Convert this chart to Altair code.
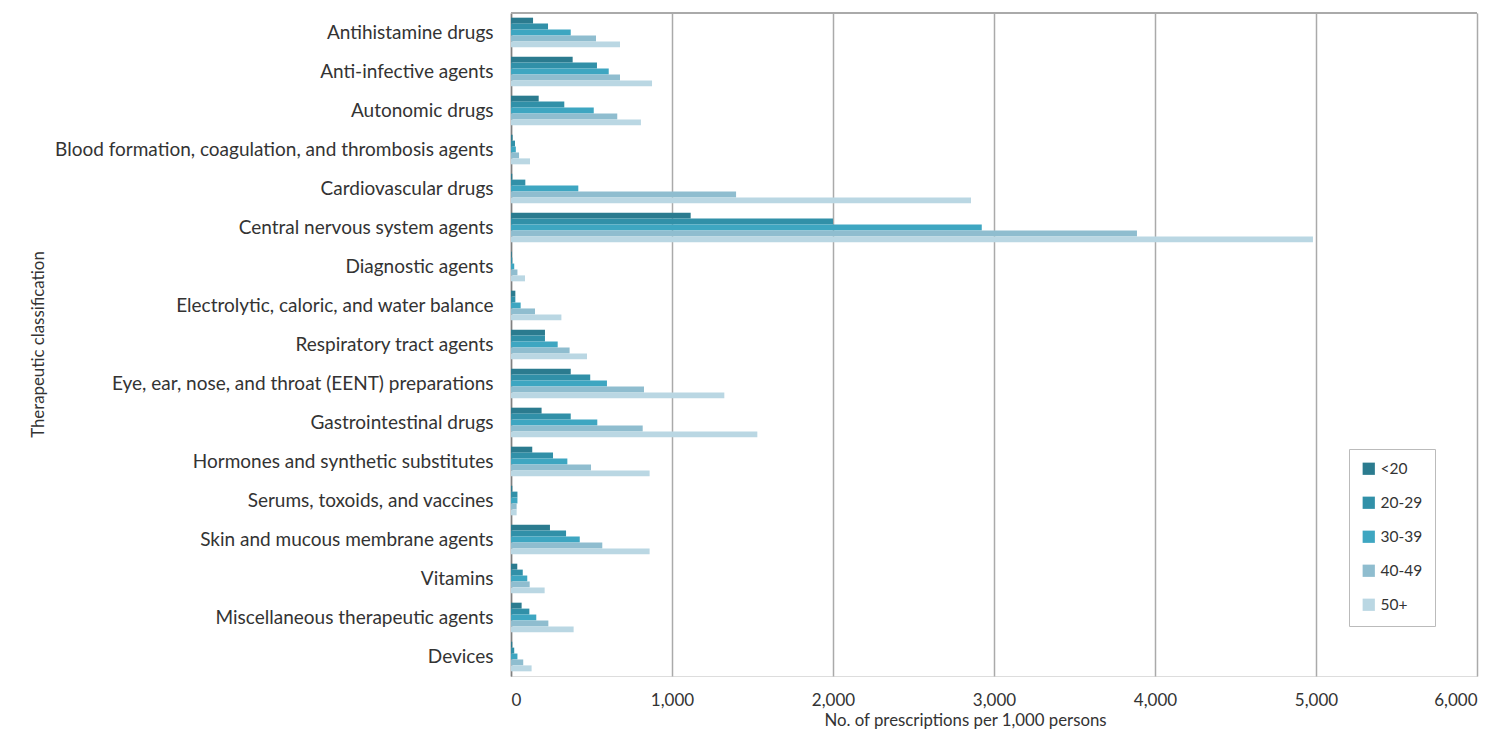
import altair as alt
import pandas as pd

categories = [
    "Antihistamine drugs",
    "Anti-infective agents",
    "Autonomic drugs",
    "Blood formation, coagulation, and thrombosis agents",
    "Cardiovascular drugs",
    "Central nervous system agents",
    "Diagnostic agents",
    "Electrolytic, caloric, and water balance",
    "Respiratory tract agents",
    "Eye, ear, nose, and throat (EENT) preparations",
    "Gastrointestinal drugs",
    "Hormones and synthetic substitutes",
    "Serums, toxoids, and vaccines",
    "Skin and mucous membrane agents",
    "Vitamins",
    "Miscellaneous therapeutic agents",
    "Devices",
]
age_groups = ["<20", "20-29", "30-39", "40-49", "50+"]

v_lt20 = [137, 383, 172, 10, 8, 1116, 5, 27, 211, 371, 190, 132, 8, 242, 39, 66, 8]
v_20_29 = [230, 534, 331, 25, 89, 2000, 8, 27, 211, 492, 371, 261, 40, 342, 73, 114, 20]
v_30_39 = [371, 607, 514, 30, 418, 2924, 20, 60, 290, 596, 536, 350, 40, 427, 101, 157, 40]
v_40_49 = [528, 677, 660, 50, 1398, 3888, 40, 149, 364, 826, 818, 497, 35, 567, 116, 232, 76]
v_50p = [677, 876, 807, 118, 2857, 4981, 87, 313, 472, 1325, 1530, 861, 35, 861, 209, 389, 128]

colors = ["#2b7b8f", "#3190a8", "#3ea6c1", "#8fbdcf", "#bad7e3"]

series = [v_lt20, v_20_29, v_30_39, v_40_49, v_50p]
rows = []
for g, vals in zip(age_groups, series):
    for c, v in zip(categories, vals):
        rows.append({"category": c, "age": g, "value": v})
df = pd.DataFrame(rows)

FONT = "Lato"

bars = alt.Chart(df).mark_bar().encode(
    y=alt.Y(
        "category:N",
        sort=categories,
        scale=alt.Scale(paddingInner=0.24, paddingOuter=0.12),
        axis=alt.Axis(
            title="Therapeutic classification",
            titleFont=FONT,
            titleFontSize=16.8,
            titleFontWeight="normal",
            titleColor="#333333",
            titleX=-473,
            titleY=331,
            titleAngle=270,
            titleAlign="center",
            titleBaseline="middle",
            labelFont=FONT,
            labelFontSize=19,
            labelColor="#333333",
            labelPadding=18,
            labelLimit=800,
            ticks=False,
            domain=True,
            domainColor="#808080",
            domainWidth=1.5,
            grid=False,
        ),
    ),
    yOffset=alt.YOffset("age:N", sort=age_groups),
    x=alt.X(
        "value:Q",
        scale=alt.Scale(domain=[0, 6000], nice=False),
        axis=alt.Axis(
            title="No. of prescriptions per 1,000 persons",
            titleFont=FONT,
            titleFontSize=16.8,
            titleFontWeight="normal",
            titleColor="#333333",
            titlePadding=4,
            titleX=454,
            labelFont=FONT,
            labelFontSize=17,
            labelColor="#333333",
            labelPadding=16,
            values=[0, 1000, 2000, 3000, 4000, 5000, 6000],
            format=",d",
            ticks=False,
            domain=False,
            grid=True,
            gridColor="#aaaaaa",
            gridWidth=1.5,
        ),
    ),
    color=alt.Color(
        "age:N",
        sort=age_groups,
        scale=alt.Scale(domain=age_groups, range=colors),
        legend=alt.Legend(
            title=None,
            orient="none",
            legendX=838,
            legendY=436,
            symbolType="square",
            symbolSize=150,
            symbolStrokeWidth=0,
            labelFont=FONT,
            labelFontSize=15.5,
            labelColor="#333333",
            rowPadding=17,
            padding=12,
            strokeColor="#bbbbbb",
            fillColor="white",
        ),
    ),
)

top_border = alt.Chart(df).mark_rule(color="#aaaaaa", strokeWidth=1.5).encode(
    x=alt.value(0), x2=alt.value(966), y=alt.value(0)
)

chart = (
    alt.layer(bars, top_border)
    .properties(width=966, height=663, padding={"top": 4, "left": 21, "right": 5, "bottom": 5})
    .configure_view(stroke=None)
    .configure(background="white")
)

chart.save("out.html", embed_options={"renderer": "svg", "actions": False})
